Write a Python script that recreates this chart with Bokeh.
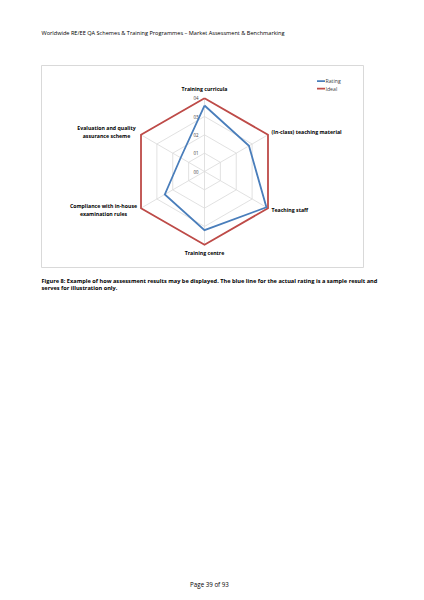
import math
from bokeh.plotting import figure
from bokeh.models import Range1d
from bokeh.core.properties import value
from bokeh.embed import file_html
from bokeh.resources import INLINE

# ---- data ----
categories = ["Training curricula", "(In-class) teaching material", "Teaching staff",
              "Training centre", "Compliance with in-house examination rules",
              "Evaluation and quality assurance scheme"]
rating = [3.6, 2.8, 3.9, 3.2, 2.5, 1.5]
ideal = [4, 4, 4, 4, 4, 4]
tick_values = [0, 1, 2, 3, 4]
tick_labels = ["00", "01", "02", "03", "04"]
series_names = ["Rating", "Ideal"]

header = "Worldwide RE/EE QA Schemes & Training Programmes \u2013 Market Assessment & Benchmarking"
caption = ["Figure 8: Example of how assessment results may be displayed. The blue line for the actual rating is a sample result and",
           "serves for illustration only."]
footer = "Page 39 of 93"

# ---- layout / style ----
FONT = value("Open Sans")
BLUE = "#4A7EBB"
RED = "#BE4B48"
GRID = "#D9D9D9"
CX, CY, K = 204, 171, 18.33  # radar centre and px per unit

p = figure(width=424, height=596, x_range=Range1d(0, 424), y_range=Range1d(596, 0),
           output_backend="svg", toolbar_location=None, min_border=0)
p.axis.visible = False
p.grid.visible = False
p.outline_line_color = None
p.background_fill_color = "white"
p.border_fill_color = "white"

def angle(i):
    return math.radians(90 - 60 * i)

def pt(v, i):
    a = angle(i)
    return CX + v * K * math.cos(a), CY - v * K * math.sin(a)

n = len(categories)

# chart frame
p.quad(left=[41], right=[363], top=[65], bottom=[267], fill_color=None,
       line_color=GRID, line_width=1)

# grid rings and spokes
for t in tick_values[1:]:
    xs = [pt(t, i)[0] for i in range(n)] + [pt(t, 0)[0]]
    ys = [pt(t, i)[1] for i in range(n)] + [pt(t, 0)[1]]
    p.line(xs, ys, line_color=GRID, line_width=0.8)
for i in range(n):
    x1, y1 = pt(tick_values[-1], i)
    p.segment(x0=[CX], y0=[CY], x1=[x1], y1=[y1], line_color=GRID, line_width=0.8)

# tick labels
p.text(x=[CX - 6] * len(tick_values), y=[pt(t, 0)[1] for t in tick_values], text=tick_labels,
       text_font=FONT, text_font_size="4.4px", text_color="#404040",
       text_align="right", text_baseline="middle")

# series
for vals, col in [(ideal, RED), (rating, BLUE)]:
    xs = [pt(v, i)[0] for i, v in enumerate(vals)] + [pt(vals[0], 0)[0]]
    ys = [pt(v, i)[1] for i, v in enumerate(vals)] + [pt(vals[0], 0)[1]]
    p.line(xs, ys, line_color=col, line_width=1.8, line_join="miter")

# category labels
lab_x = [204, 271, 271, 204, 103, 106]
lab_y = [88.5, 131, 209, 252.5, 205.5, 127.5]
lab_align = ["center", "left", "left", "center", "center", "center"]
for i, cat in enumerate(categories):
    if i == 4:
        lines = ["Compliance with in-house", "examination rules"]
    elif i == 5:
        lines = ["Evaluation and quality", "assurance scheme"]
    else:
        lines = [cat]
    for j, ln in enumerate(lines):
        p.text(x=[lab_x[i]], y=[lab_y[i] + 7.8 * j], text=[ln], text_font=FONT,
               text_font_size="5.2px", text_font_style="bold", text_color="#000000",
               text_align=lab_align[i], text_baseline="middle")

# legend
for j, (name, col) in enumerate(zip(series_names, [BLUE, RED])):
    yy = 80.7 + 7.4 * j
    p.segment(x0=[316.5], y0=[yy], x1=[324.5], y1=[yy], line_color=col, line_width=1.8)
    p.text(x=[325], y=[yy], text=[name], text_font=FONT, text_font_size="5.2px",
           text_color="#404040", text_align="left", text_baseline="middle")

# page texts
p.text(x=[41], y=[32.3], text=[header], text_font=FONT, text_font_size="5.6px",
       text_color="#000000", text_align="left", text_baseline="middle")
for j, ln in enumerate(caption):
    p.text(x=[41], y=[280 + 7.7 * j], text=[ln], text_font=FONT, text_font_size="5.65px",
           text_font_style="bold", text_color="#000000", text_align="left",
           text_baseline="middle")
p.text(x=[209], y=[584], text=[footer], text_font=FONT, text_font_size="6.2px",
       text_color="#000000", text_align="center", text_baseline="middle")

open("out.html", "w").write(file_html(p, INLINE))
